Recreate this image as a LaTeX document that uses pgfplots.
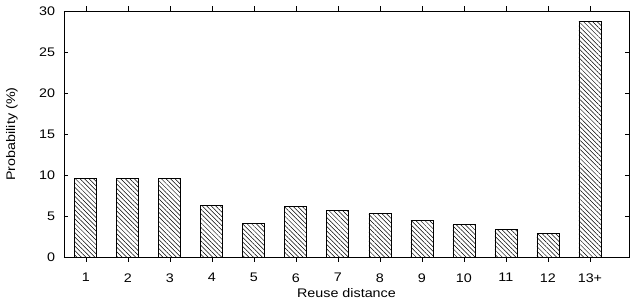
\documentclass[border=0pt]{standalone}
\usepackage{fontspec}
\setmainfont{Liberation Sans}[FakeStretch=1.15]
\usepackage{pgfplots}
\pgfplotsset{compat=1.18}
\usetikzlibrary{patterns.meta}
\begin{document}
\fontsize{12.5}{14}\selectfont
\begin{tikzpicture}
\begin{axis}[
  scale only axis,
  width=565bp, height=246bp,
  xmin=0.48, xmax=13.93,
  ymin=0, ymax=30,
  xtick={1,...,13},
  xticklabels={1,2,3,4,5,6,7,8,9,10,11,12,13+},
  ytick={0,5,...,30},
  tick align=inside,
  tick style={black, line width=0.6pt},
  major tick length=4.5bp,
  axis line style={line width=0.8pt},
  /pgf/number format/assume math mode=true,
  ticklabel style={font=\fontsize{12.5}{14}\selectfont},
  xticklabel style={yshift=-7.5bp},
  yticklabel style={xshift=-4.5bp},
  label style={font=\fontsize{12.5}{14}\selectfont},
  xlabel={Reuse distance},
  ylabel={Probability (\%)},
  xlabel style={at={(axis description cs:0.5,-0.145)}, anchor=center},
  ylabel style={at={(axis description cs:-0.092,0.5)}, anchor=center},
  ybar, bar width=22bp,
  clip=false,
]
\addplot[draw=black, line width=0.8pt, pattern={Lines[angle=-45,distance=3.2bp,line width=0.5pt]}] coordinates {
(1,9.63) (2,9.63) (3,9.63) (4,6.26) (5,4.1) (6,6.18) (7,5.65) (8,5.33) (9,4.47) (10,3.98) (11,3.37) (12,2.89) (13,28.74)
};
\end{axis}
\path[use as bounding box] (current axis.south west) ++(-64bp,-50bp) rectangle ([xshift=3bp,yshift=11bp]current axis.north east);
\end{tikzpicture}
\end{document}
